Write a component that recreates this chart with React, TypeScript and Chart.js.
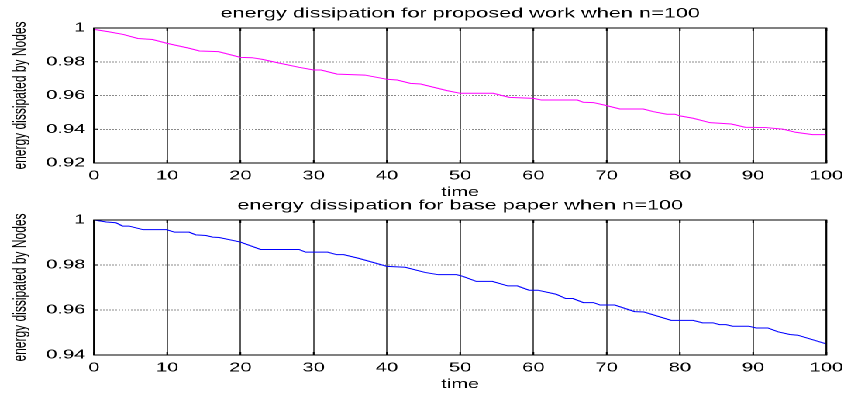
import React, { useEffect, useRef } from 'react';
import { Chart, registerables } from 'chart.js';

Chart.register(...registerables);

// ---- data ----
const topTitle = 'energy dissipation for proposed work when n=100';
const baseTitle = 'energy dissipation for base paper when n=100';
const xLabel = 'time';
const yLabel = 'energy dissipated by Nodes';

const topTime = [0, 2, 4, 6, 7, 8, 10, 13, 14.4, 17, 20, 21.6, 23, 25, 28, 30, 31, 33.2, 37, 40, 41.4, 43.2, 44.6, 48.2, 50, 54.5, 56.7, 60, 61.1, 66, 66.8, 68.2, 70, 71.8, 75, 76.4, 78.2, 79.3, 80, 81.8, 84.1, 87, 88.9, 91.7, 94, 95.8, 98.1, 100];
const topEnergy = [0.9992, 0.9978, 0.9962, 0.9938, 0.9935, 0.9932, 0.9909, 0.988, 0.9864, 0.986, 0.9826, 0.9824, 0.9814, 0.9795, 0.9767, 0.9751, 0.9751, 0.9727, 0.9721, 0.9696, 0.9692, 0.9672, 0.9668, 0.9629, 0.9613, 0.9613, 0.9589, 0.9583, 0.9573, 0.9573, 0.956, 0.9558, 0.954, 0.952, 0.952, 0.9504, 0.9489, 0.9489, 0.9479, 0.9465, 0.9439, 0.9431, 0.9412, 0.941, 0.9401, 0.9382, 0.9368, 0.9368];

const baseTime = [0, 1.7, 3, 3.9, 4.8, 6.7, 9.9, 11, 13, 13.9, 15.3, 16.2, 17.1, 20, 22.75, 28, 28.9, 31.9, 33.15, 34.1, 36.1, 40, 42.5, 45.2, 47, 49.5, 50.4, 52.2, 54.4, 56.5, 57.8, 59.4, 60.6, 63.1, 64.4, 65.4, 66.8, 68.2, 69.1, 71.1, 73.8, 75.1, 78.8, 81.8, 83.1, 84.5, 85.4, 86.3, 87.2, 89.4, 90.4, 92, 93.4, 95, 96.1, 100];
const baseEnergy = [1.0, 0.9991, 0.9988, 0.9973, 0.9973, 0.9957, 0.9957, 0.9946, 0.9946, 0.9934, 0.9931, 0.9924, 0.9922, 0.9902, 0.9869, 0.9869, 0.9857, 0.9857, 0.9846, 0.9846, 0.983, 0.9794, 0.979, 0.9767, 0.9757, 0.9757, 0.9749, 0.9727, 0.9727, 0.9707, 0.9707, 0.9688, 0.9688, 0.967, 0.9651, 0.9651, 0.9633, 0.9633, 0.9622, 0.9622, 0.9593, 0.9591, 0.9554, 0.9554, 0.9543, 0.9543, 0.9535, 0.9535, 0.9528, 0.9528, 0.952, 0.952, 0.9503, 0.9491, 0.9488, 0.9449];

const xMin = 0;
const xMax = 100;
const xStep = 10;
const topYMin = 0.92;
const baseYMin = 0.94;
const yMax = 1;
const yStep = 0.02;

// ---- styling ----
const FONT = "'Liberation Sans', Arial, Helvetica, sans-serif";
const INNER_W = 549;
const SCALE_X = 851 / INNER_W;

const framePlugin = {
  id: 'matlabFrame',
  afterDatasetsDraw(chart: any) {
    const { ctx, chartArea: a, scales } = chart;
    ctx.save();
    ctx.strokeStyle = '#000';
    ctx.lineWidth = 1;
    ctx.setLineDash([]);
    ctx.strokeRect(a.left, a.top, a.right - a.left, a.bottom - a.top);
    const xs = scales.x;
    const ys = scales.y;
    ctx.beginPath();
    xs.ticks.forEach((t: any) => {
      const p = xs.getPixelForValue(t.value);
      ctx.moveTo(p, a.bottom);
      ctx.lineTo(p, a.bottom - 3);
      ctx.moveTo(p, a.top);
      ctx.lineTo(p, a.top + 3);
    });
    ys.ticks.forEach((t: any) => {
      const p = ys.getPixelForValue(t.value);
      ctx.moveTo(a.left, p);
      ctx.lineTo(a.left + 2.5, p);
      ctx.moveTo(a.right, p);
      ctx.lineTo(a.right - 2.5, p);
    });
    ctx.stroke();
    ctx.restore();
  },
};

function makeConfig(title: string, xs: number[], ys: number[], color: string, yMin: number): any {
  return {
    type: 'line',
    data: {
      datasets: [
        {
          data: xs.map((x, i) => ({ x, y: ys[i] })),
          borderColor: color,
          borderWidth: 1,
          pointRadius: 0,
          fill: false,
          tension: 0,
        },
      ],
    },
    options: {
      animation: false,
      responsive: true,
      maintainAspectRatio: false,
      devicePixelRatio: 2,
      layout: { padding: { left: 0, right: 13, top: 0, bottom: 0 } },
      plugins: {
        legend: { display: false },
        tooltip: { enabled: false },
        title: {
          display: true,
          fullSize: false,
          text: title,
          color: '#000',
          font: { family: FONT, size: 14, weight: 'normal' },
          padding: { top: 5.1, bottom: 6.1 },
        },
      },
      scales: {
        x: {
          type: 'linear',
          min: xMin,
          max: xMax,
          ticks: {
            stepSize: xStep,
            color: '#000',
            font: { family: FONT, size: 13 },
            padding: 5,
            maxRotation: 0,
            autoSkip: false,
          },
          grid: { color: '#5a5a5a', lineWidth: 1, drawTicks: false },
          border: { display: false },
          title: {
            display: true,
            text: xLabel,
            color: '#000',
            font: { family: FONT, size: 13 },
            padding: 0,
          },
          afterFit: (s: any) => {
            s.height = 37;
          },
        },
        y: {
          type: 'linear',
          min: yMin,
          max: yMax,
          ticks: {
            stepSize: yStep,
            color: '#000',
            font: { family: FONT, size: 13 },
            padding: 5.5,
            callback: (v: any) => String(Number(Number(v).toFixed(2))),
          },
          grid: { color: '#8a8a8a', lineWidth: 1, drawTicks: false },
          border: { display: false, dash: [1, 1] },
          title: {
            display: true,
            text: yLabel,
            color: '#000',
            font: { family: FONT, size: 12 },
            padding: { top: 6, bottom: 0 },
          },
          afterFit: (s: any) => {
            s.width = 60.6;
          },
        },
      },
    },
    plugins: [framePlugin],
  };
}

function Panel(props: { top: number; title: string; xs: number[]; ys: number[]; color: string; yMin: number }) {
  const ref = useRef<HTMLCanvasElement | null>(null);
  useEffect(() => {
    if (!ref.current) return;
    const chart = new Chart(ref.current, makeConfig(props.title, props.xs, props.ys, props.color, props.yMin));
    return () => chart.destroy();
  }, []);
  return (
    <div style={{ position: 'absolute', left: 0, top: props.top, width: INNER_W, height: 200 }}>
      <canvas ref={ref} style={{ display: 'block' }} />
    </div>
  );
}

export default function App() {
  return (
    <div
      style={{
        position: 'fixed',
        left: 0,
        top: 0,
        width: INNER_W,
        height: 393,
        background: '#fff',
        transform: `scaleX(${SCALE_X})`,
        transformOrigin: '0 0',
      }}
    >
      <Panel top={0} title={topTitle} xs={topTime} ys={topEnergy} color="#ff00ff" yMin={topYMin} />
      <Panel top={192} title={baseTitle} xs={baseTime} ys={baseEnergy} color="#0000ff" yMin={baseYMin} />
    </div>
  );
}
